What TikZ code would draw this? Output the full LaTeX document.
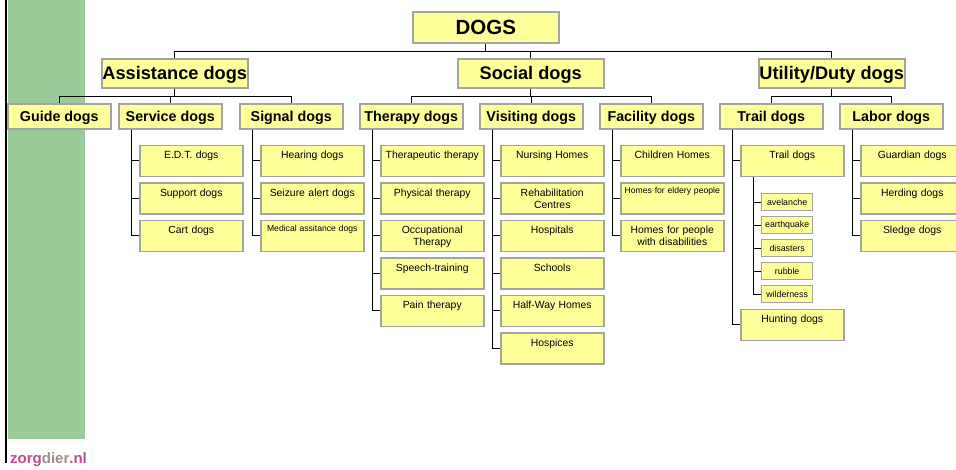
\documentclass[tikz,border=0pt]{standalone}
\usepackage{fontspec}
\setmainfont{Liberation Sans}
\definecolor{boxfill}{HTML}{FFFF99}
\definecolor{boxline}{HTML}{A3A3A3}
\definecolor{band}{HTML}{99CC99}
\definecolor{logopink}{HTML}{C04A8E}
\definecolor{logogray}{HTML}{A08E8A}
\begin{document}
\begin{tikzpicture}[x=1pt,y=-1pt,
  base/.style={draw=boxline, fill=boxfill, line width=1.5pt, inner sep=0pt, align=center, anchor=north west},
  rootbox/.style={base, minimum width=146pt, text height=23pt, text depth=8pt, font=\fontsize{20.5}{22}\bfseries},
  topbox/.style={base, minimum width=146pt, text height=20.5pt, text depth=8.5pt, font=\fontsize{18.2}{20}\bfseries},
  catbox/.style={base, minimum width=103pt, text height=18pt, text depth=7pt, font=\fontsize{14.3}{16}\bfseries},
  subbox/.style={base, minimum width=103pt, text width=101pt, text height=13.5pt, text depth=17.5pt, font=\fontsize{10.4}{11.8}\selectfont},
  smallsub/.style={subbox, text height=11pt, text depth=20pt, font=\fontsize{8.6}{10}\selectfont},
  tinybox/.style={base, line width=1.3pt, minimum width=51pt, minimum height=17pt, font=\fontsize{8.8}{10}\selectfont},
  link/.style={draw=black, line width=1pt}
]
\useasboundingbox (0,0) rectangle (956,469);
% side band
\fill[band] (8,0) rectangle (85,439);
\draw[line width=2pt] (6,0) -- (6,463);
\node[anchor=base west, inner sep=0pt, font=\fontsize{15}{17}\bfseries] (logo) at (10,463)
  {\textcolor{logopink}{zorg}\textcolor{logogray}{dier}\textcolor{logopink}{.nl}};

% root and level 1
\node[rootbox] (dogs) at (412,11) {DOGS};
\node[topbox] (assist) at (101,58) {Assistance dogs};
\node[topbox] (social) at (457,58) {Social dogs};
\node[topbox] (utility) at (758,58) {Utility/Duty dogs};

% level 2
\node[catbox] (guide) at (7,103) {Guide dogs};
\node[catbox] (service) at (118,103) {Service dogs};
\node[catbox] (signal) at (239,103) {Signal dogs};
\node[catbox] (therapy) at (359,103) {Therapy dogs};
\node[catbox] (visiting) at (479,103) {Visiting dogs};
\node[catbox] (facility) at (599,103) {Facility dogs};
\node[catbox] (trail) at (719,103) {Trail dogs};
\node[catbox] (labor) at (839,103) {Labor dogs};

% service
\node[subbox] (edt) at (139,144.5) {E.D.T. dogs};
\node[subbox] (support) at (139,182) {Support dogs};
\node[subbox] (cart) at (139,219.5) {Cart dogs};
% signal
\node[subbox] (hearing) at (260,144.5) {Hearing dogs};
\node[subbox] (seizure) at (260,182) {Seizure alert dogs};
\node[smallsub] (medical) at (260,219.5) {Medical assitance dogs};
% therapy
\node[subbox] (therapeutic) at (380,144.5) {Therapeutic therapy};
\node[subbox] (physical) at (380,182) {Physical therapy};
\node[subbox] (occupational) at (380,219.5) {Occupational\\Therapy};
\node[subbox] (speech) at (380,257) {Speech-training};
\node[subbox] (pain) at (380,294.5) {Pain therapy};
% visiting
\node[subbox] (nursing) at (500,144.5) {Nursing Homes};
\node[subbox] (rehab) at (500,182) {Rehabilitation\\Centres};
\node[subbox] (hospitals) at (500,219.5) {Hospitals};
\node[subbox] (schools) at (500,257) {Schools};
\node[subbox] (halfway) at (500,294.5) {Half-Way Homes};
\node[subbox] (hospices) at (500,332) {Hospices};
% facility
\node[subbox] (children) at (620,144.5) {Children Homes};
\node[smallsub, text height=10.5pt, text depth=20.5pt] (elderly) at (620,182) {Homes for eldery people};
\node[subbox] (disabled) at (620,219.5) {Homes for people\\with disabilities};
% trail
\node[subbox] (trailsub) at (740,144.5) {Trail dogs};
\node[tinybox] (avelanche) at (761,193) {avelanche};
\node[tinybox] (earthquake) at (761,216) {earthquake};
\node[tinybox] (disasters) at (761,239) {disasters};
\node[tinybox] (rubble) at (761,262) {rubble};
\node[tinybox] (wilderness) at (761,285) {wilderness};
\node[subbox] (hunting) at (740,308.5) {Hunting dogs};
% labor
\node[subbox] (guardian) at (860,144.5) {Guardian dogs};
\node[subbox] (herding) at (860,182) {Herding dogs};
\node[subbox] (sledge) at (860,219.5) {Sledge dogs};

% connectors: root to level 1
\foreach \c in {assist,social,utility}
  \draw[link] (dogs.south) -- ++(0,8) -| (\c.north);
% level 1 to level 2
\foreach \c in {guide,service,signal}
  \draw[link] (assist.south) -- ++(0,8) -| (\c.north);
\foreach \c in {therapy,visiting,facility}
  \draw[link] (social.south) -- ++(0,8) -| (\c.north);
\foreach \c in {trail,labor}
  \draw[link] (utility.south) -- ++(0,8) -| (\c.north);
% level 2 to leaves
\foreach \p/\c in {service/edt,service/support,service/cart,
                   signal/hearing,signal/seizure,signal/medical,
                   therapy/therapeutic,therapy/physical,therapy/occupational,therapy/speech,therapy/pain,
                   visiting/nursing,visiting/rehab,visiting/hospitals,visiting/schools,visiting/halfway,visiting/hospices,
                   facility/children,facility/elderly,facility/disabled,
                   trail/trailsub,trail/hunting,
                   labor/guardian,labor/herding,labor/sledge,
                   trailsub/avelanche,trailsub/earthquake,trailsub/disasters,trailsub/rubble,trailsub/wilderness}
  \draw[link] ([xshift=13pt]\p.south west) |- (\c.west);
\end{tikzpicture}
\end{document}
